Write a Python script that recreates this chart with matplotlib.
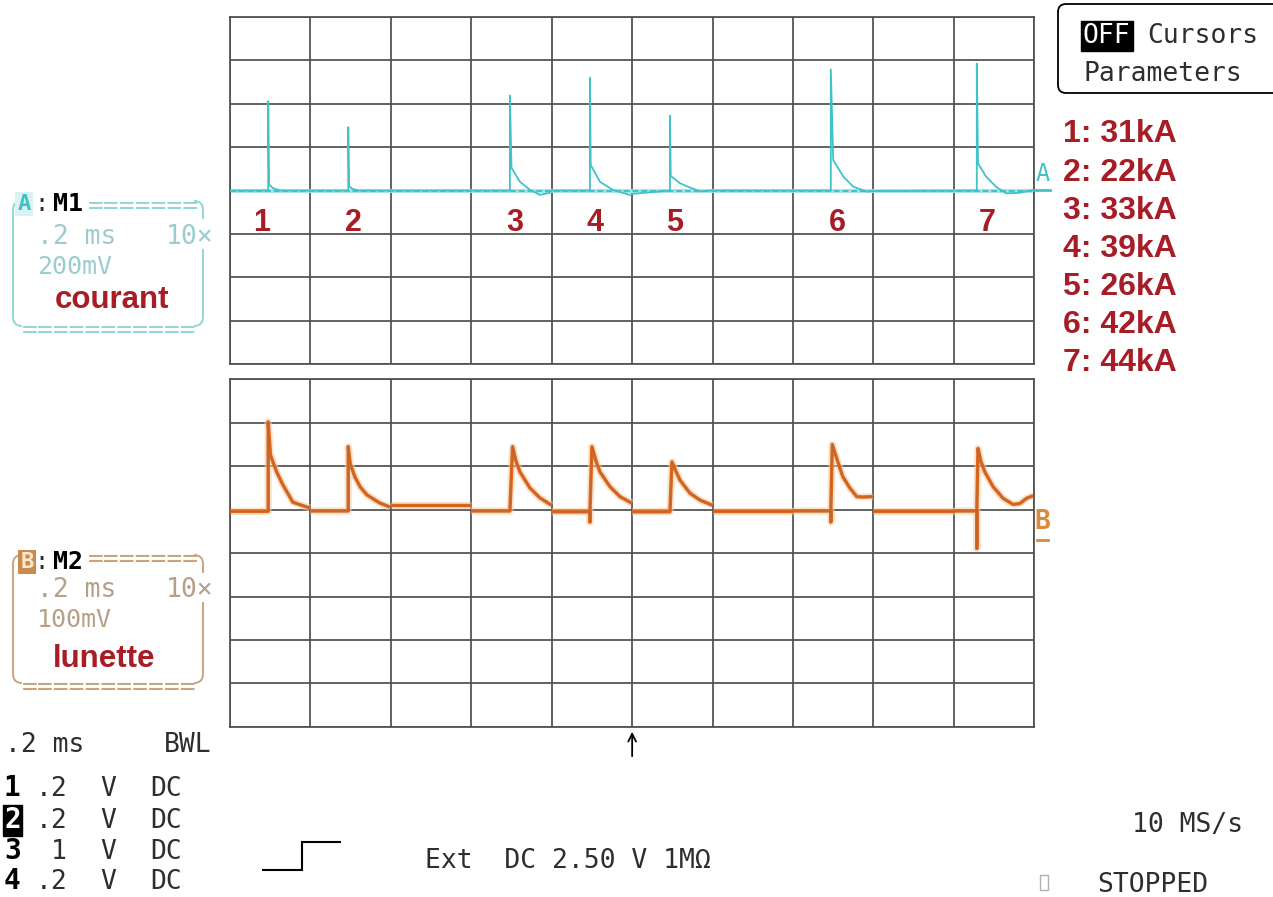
import numpy as np
import matplotlib
matplotlib.use("Agg")
import matplotlib.pyplot as plt
from matplotlib.path import Path
from matplotlib.patches import PathPatch, Rectangle, FancyBboxPatch

# ---- acquisition settings ----
TIME_PER_DIV_MS = 0.2
N_DIV = 10
KA_PER_DIV = 15          # current channel scale
MV_PER_DIV = 100         # "lunette" channel scale
TRIGGER_MS = 1.0

# ---- recorded strikes (one per memory segment) ----
strike_labels = ["1", "2", "3", "4", "5", "6", "7"]
strike_t_ms = [0.095, 0.294, 0.696, 0.895, 1.094, 1.494, 1.857]
strike_peak_kA = [31, 22, 33, 39, 26, 42, 44]

# current tail after each spike: (ms after spike, kA)
courant_tails = [
    [(0.002, 2.0), (0.012, 0.8), (0.030, 0.0)],
    [(0.002, 1.5), (0.010, 0.6), (0.025, 0.0)],
    [(0.004, 7.8), (0.025, 3.0), (0.050, 0.2), (0.075, -1.5), (0.099, -0.8), (0.104, 0.0)],
    [(0.002, 8.8), (0.025, 3.0), (0.057, 0.2), (0.099, -1.5), (0.104, -1.2)],
    [(0.002, 5.0), (0.025, 2.5), (0.050, 1.0), (0.075, -0.3), (0.100, 0.0)],
    [(0.006, 10.5), (0.031, 4.8), (0.056, 1.3), (0.090, -0.4), (0.105, -0.2)],
    [(0.003, 9.4), (0.023, 4.8), (0.048, 1.3), (0.073, -1.0), (0.106, -0.8), (0.140, 0.2)],
]

# lunette channel: resting level of each segment (mV)
lunette_level_mV = [96, 97, 110, 97, 95, 95, 97, 97, 97, 97]
# per strike: short negative dip, rise time, peak and decay (ms after strike, mV)
lunette_dip_mV = [None, None, None, 72, None, 72, 11]
lunette_rise_ms = [0.0, 0.0, 0.0067, 0.005, 0.005, 0.0037, 0.003]
lunette_peak_mV = [302, 245, 245, 245, 210, 250, 241]
lunette_decay = [
    [(0.0055, 226), (0.0117, 210), (0.0209, 187), (0.0366, 157), (0.0614, 117), (0.0962, 106), (0.1037, 104)],
    [(0.0050, 205), (0.0167, 175), (0.0300, 152), (0.0465, 134), (0.0788, 115), (0.1037, 106)],
    [(0.0150, 212), (0.0249, 187), (0.0497, 150), (0.0746, 127), (0.1040, 110)],
    [(0.0150, 212), (0.0249, 187), (0.0497, 153), (0.0746, 130), (0.1040, 115)],
    [(0.0150, 188), (0.0249, 168), (0.0497, 138), (0.0746, 122), (0.1056, 110)],
    [(0.0174, 210), (0.0298, 176), (0.0472, 150), (0.0646, 130), (0.0771, 129), (0.1044, 130)],
    [(0.0100, 212), (0.0199, 187), (0.0405, 153), (0.0654, 126), (0.0903, 112), (0.1070, 114), (0.1236, 126), (0.1400, 132)],
]

# ---- channel / timebase readouts ----
channel_ids = ["1", "2", "3", "4"]
channel_volts = [".2", ".2", "1", ".2"]
channel_coupling = ["DC", "DC", "DC", "DC"]

# ---- colours ----
GRID_C = "#4f4f4f"
CYAN = "#3fc3c7"
CYAN_LIGHT = "#92d6d8"
ORANGE = "#dc6a20"
TAN = "#c9a57f"
TAN_TEXT = "#b6a088"
RED = "#a81c26"
INK = "#2e2e2e"
MONO = "DejaVu Sans Mono"
SANS = "Liberation Sans"

W, H = 1273, 897
fig = plt.figure(figsize=(W / 100, H / 100), dpi=100)
fig.patch.set_facecolor("white")


def fig_rect(x0, y0, x1, y1):
    return [x0 / W, 1 - y1 / H, (x1 - x0) / W, (y1 - y0) / H]


GX0, GX1 = 230.0, 1034.3
TOP_Y0, TOP_Y1 = 16.7, 364.3
BOT_Y0, BOT_Y1 = 379.3, 726.9
T_END = N_DIV * TIME_PER_DIV_MS


def scope_grid(ax, half, step):
    ax.set_xlim(0, T_END)
    ax.set_ylim(-half, half)
    ax.set_xticks(np.arange(N_DIV + 1) * TIME_PER_DIV_MS)
    ax.set_yticks(np.arange(-half, half + step / 2, step))
    ax.grid(True, color=GRID_C, lw=1.25)
    ax.set_axisbelow(True)
    ax.tick_params(length=0, labelbottom=False, labelleft=False)
    for s in ax.spines.values():
        s.set_color(GRID_C)
        s.set_linewidth(1.25)
    ax.set_facecolor("white")


ax_i = fig.add_axes(fig_rect(GX0, TOP_Y0, GX1, TOP_Y1))
ax_u = fig.add_axes(fig_rect(GX0, BOT_Y0, GX1, BOT_Y1))
scope_grid(ax_i, 4 * KA_PER_DIV, KA_PER_DIV)
scope_grid(ax_u, 4 * MV_PER_DIV, MV_PER_DIV)

# ---- current trace ----
ax_i.plot([0, T_END], [0, 0], color="#a6e2e4", lw=2.8, solid_capstyle="butt", zorder=2)
ax_i.plot([0, T_END], [0, 0], color=CYAN, lw=1.4, dashes=(3, 1.5), zorder=3)
ts, ys = [0.0], [0.0]
for t0, pk, tail in zip(strike_t_ms, strike_peak_kA, courant_tails):
    ts += [t0, t0]
    ys += [0.0, pk]
    for dt, v in tail:
        ts.append(t0 + dt)
        ys.append(v)
ts.append(T_END)
ys.append(0.0)
ax_i.plot(ts, ys, color=CYAN, lw=1.3, zorder=4, solid_joinstyle="miter")

# ---- lunette trace, one memory segment per division ----
seg_of_strike = {int(t // TIME_PER_DIV_MS): k for k, t in enumerate(strike_t_ms)}
for i in range(N_DIV):
    s = i * TIME_PER_DIV_MS
    e = s + TIME_PER_DIV_MS
    lvl = lunette_level_mV[i]
    if i in seg_of_strike:
        k = seg_of_strike[i]
        t0 = strike_t_ms[k]
        xs, vs = [s, t0], [lvl, lvl]
        if lunette_dip_mV[k] is not None:
            xs.append(t0)
            vs.append(lunette_dip_mV[k])
            xs.append(t0)
            vs.append(lvl)
        xs.append(t0 + lunette_rise_ms[k])
        vs.append(lunette_peak_mV[k])
        for dt, v in lunette_decay[k]:
            xs.append(t0 + dt)
            vs.append(v)
    else:
        xs, vs = [s, e], [lvl, lvl]
    ax_u.plot(xs, vs, color="#f5c9a2", lw=5.2, alpha=0.55, zorder=2, solid_capstyle="butt")
    ax_u.plot(xs, vs, color=ORANGE, lw=2.5, zorder=3, solid_capstyle="butt")
    ax_u.plot(xs, vs, color="#a85a32", lw=0.7, alpha=0.5, zorder=4, solid_capstyle="butt")

# ---- overlay in pixel coordinates for the readouts ----
ov = fig.add_axes([0, 0, 1, 1], zorder=5)
ov.set_xlim(0, W)
ov.set_ylim(H, 0)
ov.axis("off")
ov.patch.set_alpha(0)


def t_to_px(t):
    return GX0 + t / T_END * (GX1 - GX0)


def txt(x, yc, s, size, cap=0.73, **kw):
    """Place text so that its capital letters are centred on yc (pixels)."""
    kw.setdefault("family", MONO)
    kw.setdefault("color", INK)
    return ov.text(x, yc + 0.5 * cap * size / 0.72, s, fontsize=size, va="baseline", **kw)


def stroke(verts, codes, color, lw=1.4):
    ov.add_patch(PathPatch(Path(verts, codes), fill=False, edgecolor=color, lw=lw))


M, L, C = Path.MOVETO, Path.LINETO, Path.CURVE3


def channel_box(x0, x1, ytop, ybot, gap, color, r=9):
    stroke([(x0 + r, ytop), (x0, ytop), (x0, ytop + r), (x0, ybot - r), (x0, ybot), (x0 + r, ybot)],
           [M, C, C, L, C, C], color)
    stroke([(x1 - r, ytop), (x1, ytop), (x1, ytop + r), (x1, gap[0])], [M, C, C, L], color)
    stroke([(x1, gap[1]), (x1, ybot - r), (x1, ybot), (x1 - r, ybot)], [M, L, C, C], color)


# channel A box (courant)
channel_box(13, 203, 201, 326, (219, 249), CYAN_LIGHT)
txt(24, 202, "A", 16, color=CYAN, weight="bold", ha="center",
    bbox=dict(boxstyle="square,pad=0.1", fc="#d9f3f3", ec="none"))
txt(42, 202, ":", 17, color=INK, ha="center")
txt(53, 202, "M1", 18, color="black", weight="bold")
txt(88, 204, "=======", 19, color=CYAN_LIGHT)
txt(37, 234.5, ".2 ms", 19, color="#9ccccf")
txt(213, 234.5, "10×", 19, color="#9ccccf", ha="right")
txt(37, 265, "200mV", 18, color="#9ccccf")
ov.text(112, 308, "courant", fontsize=22.5, family=SANS, weight="bold", color=RED,
        ha="center", va="baseline")
txt(22, 328, "===========", 19, color=CYAN_LIGHT)

# channel B box (lunette)
channel_box(13, 203, 555, 683, (573, 602), TAN)
txt(27, 560, "B", 16, color="#fbe7cc", weight="bold", ha="center",
    bbox=dict(boxstyle="square,pad=0.1", fc="#c98a4c", ec="none"))
txt(42, 560, ":", 17, color=INK, ha="center")
txt(53, 560, "M2", 18, color="black", weight="bold")
txt(88, 557, "=======", 19, color=TAN)
txt(37, 587.5, ".2 ms", 19, color=TAN_TEXT)
txt(213, 587.5, "10×", 19, color=TAN_TEXT, ha="right")
txt(37, 617.5, "100mV", 18, color=TAN_TEXT)
ov.text(104, 667, "lunette", fontsize=22.5, family=SANS, weight="bold", color=RED,
        ha="center", va="baseline")
txt(22, 685, "===========", 19, color=TAN)

# timebase and channel settings
txt(5, 742, ".2 ms", 19)
txt(212, 742, "BWL", 19, ha="right")
row_y = [786, 818, 849, 879]
for yc, cid, volts, cpl in zip(row_y, channel_ids, channel_volts, channel_coupling):
    if cid == "2":
        txt(4, yc, cid, 20, weight="bold", color="white",
            bbox=dict(boxstyle="square,pad=0.05", fc="black", ec="black"))
    else:
        txt(4, yc, cid, 20, weight="bold", color="black")
    txt(67, yc, volts, 19, ha="right")
    txt(100, yc, "V", 19)
    txt(150, yc, cpl, 19)

# trigger readout
stroke([(262, 870), (301.5, 870), (301.5, 842), (341, 842)], [M, L, L, L], "black", lw=1.5)
txt(425, 858, "Ext  DC 2.50 V 1MΩ", 19)
tx = t_to_px(TRIGGER_MS)
ov.annotate("", xy=(tx, 729), xytext=(tx, 759),
            arrowprops=dict(arrowstyle="->", color="black", lw=1.3, mutation_scale=14))
txt(1243, 822, "10 MS/s", 19, ha="right")
ov.add_patch(Rectangle((1040, 875), 8, 15, fill=False, ec="#b0b0b0", lw=1.0))
txt(1097, 882, "STOPPED", 19)

# menu box
ov.add_patch(FancyBboxPatch((1058, 4), 240, 89, boxstyle="round,pad=0,rounding_size=8",
                            fill=False, ec="black", lw=1.3))
txt(1083, 33.5, "OFF", 19, color="white",
    bbox=dict(boxstyle="square,pad=0.08", fc="black", ec="black"))
txt(1147, 33.5, "Cursors", 19)
txt(1083, 71, "Parameters", 19)

# peak current list
for k, (lab, pk) in enumerate(zip(strike_labels, strike_peak_kA)):
    txt(1063, 131 + 38.1 * k, f"{lab}: {pk}kA", 23, cap=0.716, family=SANS,
        weight="bold", color=RED)

# strike numbers under the current trace
label_nudge_px = [-7, 5, 5, 5, 5, 7, 10]
for lab, t0, dx in zip(strike_labels, strike_t_ms, label_nudge_px):
    txt(t_to_px(t0) + dx, 220, lab, 22, cap=0.716, family=SANS, weight="bold",
        color=RED, ha="center")

# channel markers at the right edge of the grid
y_a = TOP_Y0 + (TOP_Y1 - TOP_Y0) / 2
ov.plot([GX1, 1050], [y_a, y_a], color=CYAN, lw=2.0)
txt(1042.5, 172, "A", 17, color=CYAN, ha="center")
txt(1042.5, 519, "B", 19, color="#d98a3a", ha="center", weight="bold")
ov.plot([1037, 1048], [540, 540], color="#d98a3a", lw=2.0)

fig.savefig("out.png", dpi=100, facecolor="white")
